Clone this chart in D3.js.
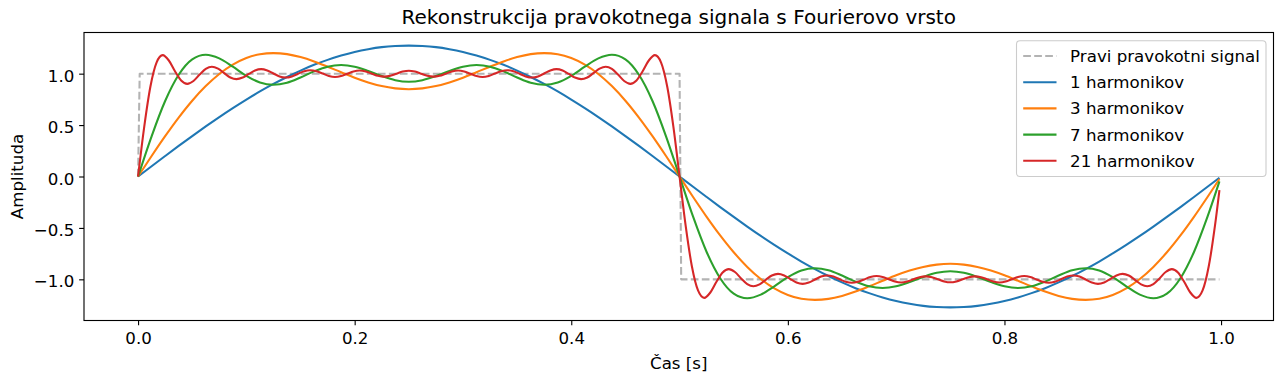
<!DOCTYPE html>
<html>
<head>
<meta charset="utf-8">
<script src="https://cdn.jsdelivr.net/npm/d3@7"></script>
<style>
  html, body { margin: 0; padding: 0; background: #ffffff; }
  svg { display: block; font-family: "DejaVu Sans", sans-serif; }
</style>
</head>
<body>
<svg id="chart" width="1284" height="383"></svg>
<script>
// ---------------- data ----------------
const chartTitle = "Rekonstrukcija pravokotnega signala s Fourierovo vrsto";
const xAxisLabel = "Čas [s]";
const yAxisLabel = "Amplituda";
const xTickValues = [0, 0.2, 0.4, 0.6, 0.8, 1.0];
const xTickLabels = ["0.0", "0.2", "0.4", "0.6", "0.8", "1.0"];
const yTickValues = [-1, -0.5, 0, 0.5, 1];
const yTickLabels = ["−1.0", "−0.5", "0.0", "0.5", "1.0"];
const seriesNames = ["Pravi pravokotni signal", "1 harmonikov", "3 harmonikov", "7 harmonikov", "21 harmonikov"];

// sampling times (last sample just before t = 1)
const lastTime = 0.9985;
const coarseTimes = d3.range(80).map(i => i / 80).concat([lastTime]);
const fineTimes = d3.range(176).map(k => k / 176).concat([lastTime]);

// true square wave
const squareTimes = [0, 0.0015, 0.5, 0.5015, lastTime];
const squareValues = [0, 1, 1, -1, -1];

// 1 harmonic (coarse times)
const harm1Values = [
  0, 0.100, 0.199, 0.297, 0.393, 0.487, 0.578, 0.665, 0.748, 0.827, 0.900, 0.968, 1.030, 1.086, 1.134, 1.176, 1.211, 1.238, 1.258, 1.269, 1.273,
  1.269, 1.258, 1.238, 1.211, 1.176, 1.134, 1.086, 1.030, 0.968, 0.900, 0.827, 0.748, 0.665, 0.578, 0.487, 0.393, 0.297, 0.199, 0.100, 0,
  -0.100, -0.199, -0.297, -0.393, -0.487, -0.578, -0.665, -0.748, -0.827, -0.900, -0.968, -1.030, -1.086, -1.134, -1.176, -1.211, -1.238, -1.258, -1.269, -1.273,
  -1.269, -1.258, -1.238, -1.211, -1.176, -1.134, -1.086, -1.030, -0.968, -0.900, -0.827, -0.748, -0.665, -0.578, -0.487, -0.393, -0.297, -0.199, -0.100,
  -0.012
];

// 3 harmonics (coarse times)
const harm3Values = [
  0, 0.199, 0.392, 0.573, 0.737, 0.879, 0.997, 1.088, 1.152, 1.189, 1.200, 1.190, 1.161, 1.119, 1.068, 1.014, 0.961, 0.915, 0.879, 0.857, 0.849,
  0.857, 0.879, 0.915, 0.961, 1.014, 1.068, 1.119, 1.161, 1.190, 1.200, 1.189, 1.152, 1.088, 0.997, 0.879, 0.737, 0.573, 0.392, 0.199, 0,
  -0.199, -0.392, -0.573, -0.737, -0.879, -0.997, -1.088, -1.152, -1.189, -1.200, -1.190, -1.161, -1.119, -1.068, -1.014, -0.961, -0.915, -0.879, -0.857, -0.849,
  -0.857, -0.879, -0.915, -0.961, -1.014, -1.068, -1.119, -1.161, -1.190, -1.200, -1.189, -1.152, -1.088, -0.997, -0.879, -0.737, -0.573, -0.392, -0.199,
  -0.024
];

// 7 harmonics (coarse times)
const harm7Values = [
  0, 0.391, 0.734, 0.989, 1.139, 1.184, 1.149, 1.068, 0.979, 0.914, 0.892, 0.912, 0.963, 1.022, 1.068, 1.084, 1.068, 1.027, 0.977, 0.937, 0.922,
  0.937, 0.977, 1.027, 1.068, 1.084, 1.068, 1.022, 0.963, 0.912, 0.892, 0.914, 0.979, 1.068, 1.149, 1.184, 1.139, 0.989, 0.734, 0.391, 0,
  -0.391, -0.734, -0.989, -1.139, -1.184, -1.149, -1.068, -0.979, -0.914, -0.892, -0.912, -0.963, -1.022, -1.068, -1.084, -1.068, -1.027, -0.977, -0.937, -0.922,
  -0.937, -0.977, -1.027, -1.068, -1.084, -1.068, -1.022, -0.963, -0.912, -0.892, -0.914, -0.979, -1.068, -1.149, -1.184, -1.139, -0.989, -0.734, -0.391,
  -0.048
];

// 21 harmonics (fine times)
const harm21Values = [
  0, 0.483, 0.873, 1.108, 1.180, 1.128, 1.024, 0.934, 0.901, 0.929, 0.991, 1.047, 1.068, 1.049, 1.005, 0.963, 0.947, 0.962, 0.997, 1.031, 1.044,
  1.031, 1.002, 0.973, 0.962, 0.973, 0.999, 1.024, 1.034, 1.024, 1.001, 0.978, 0.968, 0.977, 0.999, 1.021, 1.030, 1.021, 1.000, 0.979, 0.971,
  0.979, 1.000, 1.020, 1.029,
  1.020, 1.000, 0.979, 0.971, 0.979, 1.000, 1.021, 1.030, 1.021, 0.999, 0.977, 0.968, 0.978, 1.001, 1.024, 1.034, 1.024, 0.999, 0.973, 0.962,
  0.973, 1.002, 1.031, 1.044, 1.031, 0.997, 0.962, 0.947, 0.963, 1.005, 1.049, 1.068, 1.047, 0.991, 0.929, 0.901, 0.934, 1.024, 1.128, 1.180,
  1.108, 0.873, 0.483, 0,
  -0.483, -0.873, -1.108, -1.180, -1.128, -1.024, -0.934, -0.901, -0.929, -0.991, -1.047, -1.068, -1.049, -1.005, -0.963, -0.947, -0.962, -0.997, -1.031, -1.044,
  -1.031, -1.002, -0.973, -0.962, -0.973, -0.999, -1.024, -1.034, -1.024, -1.001, -0.978, -0.968, -0.977, -0.999, -1.021, -1.030, -1.021, -1.000, -0.979, -0.971,
  -0.979, -1.000, -1.020, -1.029,
  -1.020, -1.000, -0.979, -0.971, -0.979, -1.000, -1.021, -1.030, -1.021, -0.999, -0.977, -0.968, -0.978, -1.001, -1.024, -1.034, -1.024, -0.999, -0.973, -0.962,
  -0.973, -1.002, -1.031, -1.044, -1.031, -0.997, -0.962, -0.947, -0.963, -1.005, -1.049, -1.068, -1.047, -0.991, -0.929, -0.901, -0.934, -1.024, -1.128, -1.180,
  -1.108, -0.873, -0.483,
  -0.132
];

// ---------------- drawing ----------------
const svg = d3.select("#chart");
svg.append("rect").attr("width", 1284).attr("height", 383).attr("fill", "#ffffff");

const plot = { left: 84, right: 1273.5, top: 32.5, bottom: 320.5 };

const allT = squareTimes.concat(coarseTimes, fineTimes);
const allV = squareValues.concat(harm1Values, harm3Values, harm7Values, harm21Values);
const tExt = d3.extent(allT), vExt = d3.extent(allV);
const tPad = 0.05 * (tExt[1] - tExt[0]);
const vPad = 0.05 * (vExt[1] - vExt[0]);

const x = d3.scaleLinear().domain([tExt[0] - tPad, tExt[1] + tPad]).range([plot.left, plot.right]);
const y = d3.scaleLinear().domain([vExt[0] - vPad, vExt[1] + vPad]).range([plot.bottom, plot.top]);

const series = [
  { name: seriesNames[0], t: squareTimes, v: squareValues, color: "#b3b3b3", dash: "7.7,3.3", curve: d3.curveLinear },
  { name: seriesNames[1], t: coarseTimes, v: harm1Values, color: "#1f77b4", dash: null, curve: d3.curveMonotoneX },
  { name: seriesNames[2], t: coarseTimes, v: harm3Values, color: "#ff7f0e", dash: null, curve: d3.curveMonotoneX },
  { name: seriesNames[3], t: coarseTimes, v: harm7Values, color: "#2ca02c", dash: null, curve: d3.curveMonotoneX },
  { name: seriesNames[4], t: fineTimes, v: harm21Values, color: "#d62728", dash: null, curve: d3.curveMonotoneX }
];

const linesG = svg.append("g");
series.forEach(s => {
  const pts = s.t.map((t, i) => [t, s.v[i]]);
  const line = d3.line().x(d => x(d[0])).y(d => y(d[1])).curve(s.curve);
  linesG.append("path")
    .attr("d", line(pts))
    .attr("fill", "none")
    .attr("stroke", s.color)
    .attr("stroke-width", 2.08)
    .attr("stroke-linejoin", "round")
    .attr("stroke-dasharray", s.dash);
});

// axes
const fontSize = 16.67;
const xAxis = d3.axisBottom(x).tickValues(xTickValues)
  .tickFormat((d, i) => xTickLabels[i]).tickSizeInner(4.86).tickSizeOuter(0).tickPadding(6.8);
const gx = svg.append("g").attr("transform", `translate(0,${plot.bottom})`).call(xAxis);
gx.select(".domain").remove();
gx.selectAll(".tick line").attr("stroke", "#000").attr("stroke-width", 1.11);
gx.selectAll(".tick text").attr("font-size", fontSize).attr("font-family", "DejaVu Sans").attr("fill", "#000");

const yAxis = d3.axisLeft(y).tickValues(yTickValues)
  .tickFormat((d, i) => yTickLabels[i]).tickSizeInner(4.86).tickSizeOuter(0).tickPadding(4.86);
const gy = svg.append("g").attr("transform", `translate(${plot.left},0)`).call(yAxis);
gy.select(".domain").remove();
gy.selectAll(".tick line").attr("stroke", "#000").attr("stroke-width", 1.11);
gy.selectAll(".tick text").attr("font-size", fontSize).attr("font-family", "DejaVu Sans").attr("fill", "#000").attr("dy", "0.45em");

// spines
svg.append("rect")
  .attr("x", plot.left).attr("y", plot.top)
  .attr("width", plot.right - plot.left).attr("height", plot.bottom - plot.top)
  .attr("fill", "none").attr("stroke", "#000").attr("stroke-width", 1.11);

// title and axis labels
svg.append("text").attr("x", (plot.left + plot.right) / 2).attr("y", 24)
  .attr("text-anchor", "middle").attr("font-size", 20).attr("fill", "#000").text(chartTitle);
svg.append("text").attr("x", (plot.left + plot.right) / 2).attr("y", 368.5)
  .attr("text-anchor", "middle").attr("font-size", fontSize).attr("fill", "#000").text(xAxisLabel);
svg.append("text").attr("transform", `translate(22.5,${(plot.top + plot.bottom) / 2}) rotate(-90)`)
  .attr("text-anchor", "middle").attr("font-size", fontSize).attr("fill", "#000").text(yAxisLabel);

// legend
const legend = { left: 1016.5, top: 40.8, width: 249.5, height: 135.7, firstRow: 56, rowStep: 26.2 };
const lg = svg.append("g");
lg.append("rect")
  .attr("x", legend.left).attr("y", legend.top)
  .attr("width", legend.width).attr("height", legend.height)
  .attr("rx", 3.5).attr("ry", 3.5)
  .attr("fill", "#ffffff").attr("fill-opacity", 0.8)
  .attr("stroke", "#cccccc").attr("stroke-width", 1.1);
series.forEach((s, i) => {
  const ry = legend.firstRow + i * legend.rowStep;
  lg.append("line")
    .attr("x1", legend.left + 6.7).attr("x2", legend.left + 40)
    .attr("y1", ry).attr("y2", ry)
    .attr("stroke", s.color).attr("stroke-width", 2.08)
    .attr("stroke-dasharray", s.dash);
  lg.append("text")
    .attr("x", legend.left + 53.6).attr("y", ry + 6)
    .attr("font-size", fontSize).attr("fill", "#000").text(s.name);
});
</script>
</body>
</html>
